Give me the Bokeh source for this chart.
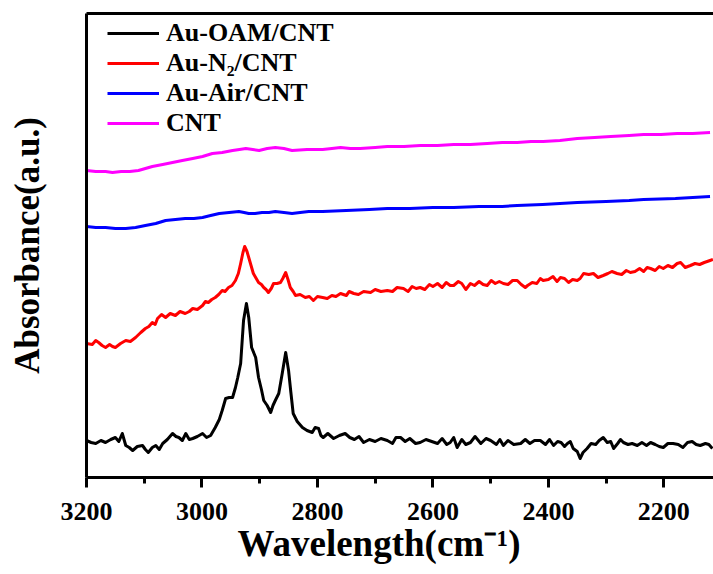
from bokeh.plotting import figure
from bokeh.models import Range1d, LinearAxis, FixedTicker, Legend, LegendItem, Title
from bokeh.embed import file_html
from bokeh.resources import INLINE

# ---- data ----
w_oam = [3200, 3192, 3184, 3175, 3167, 3158, 3150, 3144, 3138, 3132, 3126, 3120, 3112, 3103, 3098,
         3093, 3086, 3080, 3074, 3068, 3060, 3051, 3045, 3040, 3034, 3028, 3022, 3016, 3008, 2999,
         2992, 2985, 2977, 2970, 2965, 2959, 2953, 2947, 2942, 2938, 2933, 2928, 2923, 2919, 2914,
         2907, 2902, 2897, 2893, 2887, 2881, 2877, 2873, 2867, 2861, 2855, 2850, 2846, 2842, 2835,
         2826, 2818, 2809, 2804, 2798, 2794, 2790, 2782, 2772, 2762, 2752, 2744, 2736, 2728, 2720,
         2710, 2700, 2690, 2679, 2670, 2664, 2656, 2648, 2640, 2630, 2622, 2612, 2602, 2592, 2584,
         2576, 2570, 2564, 2558, 2550, 2543, 2535, 2527, 2517, 2508, 2500, 2490, 2484, 2478, 2470,
         2460, 2448, 2440, 2432, 2424, 2414, 2405, 2398, 2391, 2384, 2378, 2372, 2367, 2362, 2357,
         2350, 2345, 2340, 2333, 2326, 2318, 2312, 2305, 2298, 2292, 2287, 2280, 2275, 2270, 2262,
         2255, 2246, 2238, 2230, 2223, 2215, 2208, 2201, 2193, 2184, 2175, 2167, 2159, 2151, 2144,
         2137, 2128, 2122, 2116]
a_oam = [37, 35, 34, 37, 35, 38, 40, 36, 44, 32, 30, 27, 31, 32, 28,
         25, 30, 32, 28, 34, 38, 44, 41, 40, 37, 44, 38, 39, 41, 44,
         40, 42, 50, 58, 67, 79, 80, 80, 90, 100, 114, 157, 174, 160, 130,
         120, 100, 88, 77, 72, 65, 72, 77, 84, 104, 125, 107, 85, 64, 56,
         50, 47, 45, 50, 49, 42, 40, 44, 39, 42, 44, 40, 38, 41, 35,
         38, 36, 39, 37, 34, 40, 40, 36, 39, 34, 35, 38, 36, 34, 39,
         33, 35, 40, 30, 38, 33, 35, 41, 34, 39, 37, 33, 38, 32, 37,
         33, 34, 38, 34, 37, 37, 33, 38, 32, 36, 35, 31, 34, 36, 29,
         26, 19, 25, 29, 34, 33, 37, 40, 35, 36, 29, 34, 38, 35, 33,
         34, 32, 35, 32, 35, 33, 31, 30, 34, 34, 33, 30, 35, 36, 33,
         32, 34, 33, 29]

w_n2 = [3200, 3190, 3184, 3179, 3173, 3167, 3160, 3155, 3150, 3141, 3132, 3124, 3115, 3106, 3098,
        3092, 3086, 3081, 3077, 3070, 3063, 3055, 3046, 3038, 3029, 3022, 3016, 3008, 2999, 2994,
        2989, 2983, 2977, 2971, 2965, 2960, 2954, 2948, 2942, 2937, 2933, 2929, 2926, 2922, 2919,
        2915, 2911, 2906, 2902, 2897, 2893, 2889, 2885, 2880, 2876, 2870, 2864, 2860, 2855, 2851,
        2847, 2842, 2838, 2830, 2821, 2814, 2807, 2800, 2791, 2783, 2775, 2768, 2760, 2750, 2745,
        2737, 2729, 2720, 2708, 2700, 2690, 2679, 2670, 2662, 2651, 2643, 2636, 2629, 2622, 2614,
        2606, 2600, 2592, 2584, 2577, 2570, 2564, 2556, 2550, 2543, 2535, 2528, 2520, 2513, 2506,
        2499, 2492, 2485, 2478, 2470, 2462, 2454, 2447, 2440, 2436, 2428, 2420, 2414, 2409, 2400,
        2392, 2385, 2379, 2372, 2365, 2358, 2350, 2345, 2339, 2330, 2322, 2314, 2305, 2297, 2290,
        2281, 2273, 2265, 2258, 2250, 2242, 2235, 2229, 2223, 2215, 2208, 2201, 2193, 2185, 2177,
        2171, 2163, 2154, 2146, 2138, 2130, 2125, 2120, 2115]
a_n2 = [134, 133, 137, 135, 132, 130, 133, 131, 130, 134, 137, 136, 140, 145, 149,
        151, 155, 153, 159, 163, 160, 164, 162, 166, 164, 166, 169, 168, 172, 176,
        175, 178, 180, 183, 187, 186, 190, 192, 197, 204, 214, 225, 231, 226, 220,
        212, 204, 199, 195, 193, 190, 188, 185, 189, 194, 194, 195, 199, 205, 198,
        190, 186, 182, 183, 180, 181, 177, 181, 180, 179, 182, 181, 184, 182, 186,
        184, 183, 186, 185, 188, 186, 187, 186, 190, 189, 186, 191, 189, 190, 188,
        193, 191, 194, 190, 195, 192, 192, 196, 194, 188, 194, 192, 196, 193, 192,
        197, 194, 196, 194, 193, 197, 197, 193, 190, 192, 195, 194, 199, 197, 198,
        201, 196, 200, 199, 195, 198, 197, 199, 204, 203, 204, 200, 202, 204, 206,
        204, 203, 207, 205, 206, 209, 206, 210, 209, 207, 211, 209, 212, 210, 214,
        215, 210, 212, 214, 213, 215, 216, 217, 218]

w_air = [3200, 3184, 3167, 3150, 3132, 3115, 3098, 3080, 3063, 3046, 3029, 3014, 2999, 2985, 2970,
         2953, 2936, 2927, 2919, 2908, 2896, 2884, 2873, 2858, 2844, 2830, 2815, 2800, 2791, 2750,
         2710, 2679, 2640, 2600, 2564, 2520, 2480, 2454, 2410, 2380, 2350, 2300, 2260, 2235, 2180,
         2150, 2120]
a_air = [251, 250, 250, 249, 249, 250, 252, 254, 257, 258, 259, 259, 260, 262, 264,
         265, 266, 265, 264, 264, 265, 265, 266, 265, 264, 265, 266, 266, 266, 267,
         268, 269, 269, 270, 270, 271, 271, 272, 273, 274, 275, 276, 277, 278, 279,
         280, 281]

w_cnt = [3200, 3184, 3167, 3155, 3140, 3125, 3110, 3098, 3086, 3068, 3051, 3034, 3016, 2999, 2982,
         2965, 2947, 2935, 2924, 2912, 2901, 2887, 2873, 2858, 2844, 2818, 2791, 2775, 2760, 2743,
         2726, 2700, 2679, 2650, 2622, 2592, 2564, 2535, 2506, 2480, 2454, 2430, 2409, 2380, 2350,
         2320, 2292, 2260, 2235, 2205, 2177, 2150, 2120]
a_cnt = [307, 306, 306, 305, 306, 306, 307, 309, 311, 313, 315, 317, 319, 321, 324,
         325, 327, 328, 329, 328, 327, 329, 330, 329, 327, 328, 328, 329, 330, 329,
         329, 330, 331, 331, 332, 332, 333, 333, 334, 335, 335, 336, 336, 337, 339,
         340, 341, 342, 343, 343, 344, 344, 345]

labels = ["Au-OAM/CNT", "Au-N\u2082/CNT", "Au-Air/CNT", "CNT"]
colors = ["#000000", "#ff0000", "#0000ff", "#ff00ff"]
x_ticks = [3200, 3000, 2800, 2600, 2400, 2200]
x_minor = [3100, 2900, 2700, 2500, 2300, 2100]
x_title = "Wavelength(cm\u207b\u00b9)"
y_title = "Absorbance(a.u.)"

FONT = "Liberation Serif"

p = figure(width=713, height=574, output_backend="svg", toolbar_location=None,
           x_range=Range1d(3200, 2114), y_range=Range1d(0, 464),
           x_axis_location=None, y_axis_location=None,
           min_border_left=86, min_border_right=0, min_border_top=13, min_border_bottom=97)
p.outline_line_color = None
p.grid.visible = False
p.background_fill_color = "white"
p.border_fill_color = "white"

series = [(w_oam, a_oam), (w_n2, a_n2), (w_air, a_air), (w_cnt, a_cnt)]
renderers = []
for (xs, ys), c in zip(series, colors):
    r = p.line(xs, ys, line_color=c, line_width=3, line_join="round")
    renderers.append(r)

# bottom axis
xa = LinearAxis(ticker=FixedTicker(ticks=x_ticks, minor_ticks=x_minor))
xa.major_label_text_font = FONT
xa.major_label_text_font_style = "bold"
xa.major_label_text_font_size = "26px"
xa.major_label_text_color = "black"
xa.major_label_standoff = 15
xa.axis_line_width = 3
xa.axis_line_color = "black"
xa.major_tick_line_width = 3
xa.minor_tick_line_width = 3
xa.major_tick_line_color = "black"
xa.minor_tick_line_color = "black"
xa.major_tick_out = 10
xa.major_tick_in = 0
xa.minor_tick_out = 6
xa.minor_tick_in = 0
p.add_layout(xa, "below")

# left axis (no ticks), its label is the y title
ya = LinearAxis(ticker=FixedTicker(ticks=[]))
ya.axis_line_width = 3
ya.axis_line_color = "black"
ya.major_tick_line_color = None
ya.minor_tick_line_color = None
ya.axis_label = y_title
ya.axis_label_text_font = FONT
ya.axis_label_text_font_style = "bold"
ya.axis_label_text_font_size = "35px"
ya.axis_label_text_color = "black"
ya.axis_label_standoff = 40
p.add_layout(ya, "left")

# top border line
ta = LinearAxis(ticker=FixedTicker(ticks=[]))
ta.axis_line_width = 3
ta.axis_line_color = "black"
ta.major_tick_line_color = None
ta.minor_tick_line_color = None
p.add_layout(ta, "above")

# x title
xt = Title(text=x_title, align="left", offset=151, standoff=-4,
           text_font=FONT, text_font_style="bold", text_font_size="37px", text_color="black")
p.add_layout(xt, "below")

legend = Legend(items=[LegendItem(label=l, renderers=[r]) for l, r in zip(labels, renderers)],
                location=(21, 339))
legend.label_text_font = FONT
legend.label_text_font_style = "bold"
legend.label_text_font_size = "26px"
legend.label_text_color = "black"
legend.glyph_width = 52
legend.glyph_height = 30
legend.label_height = 30
legend.label_standoff = 7
legend.spacing = 0
legend.padding = 0
legend.margin = 0
legend.border_line_color = None
legend.background_fill_alpha = 0
p.add_layout(legend)

open("out.html", "w").write(file_html(p, INLINE))
